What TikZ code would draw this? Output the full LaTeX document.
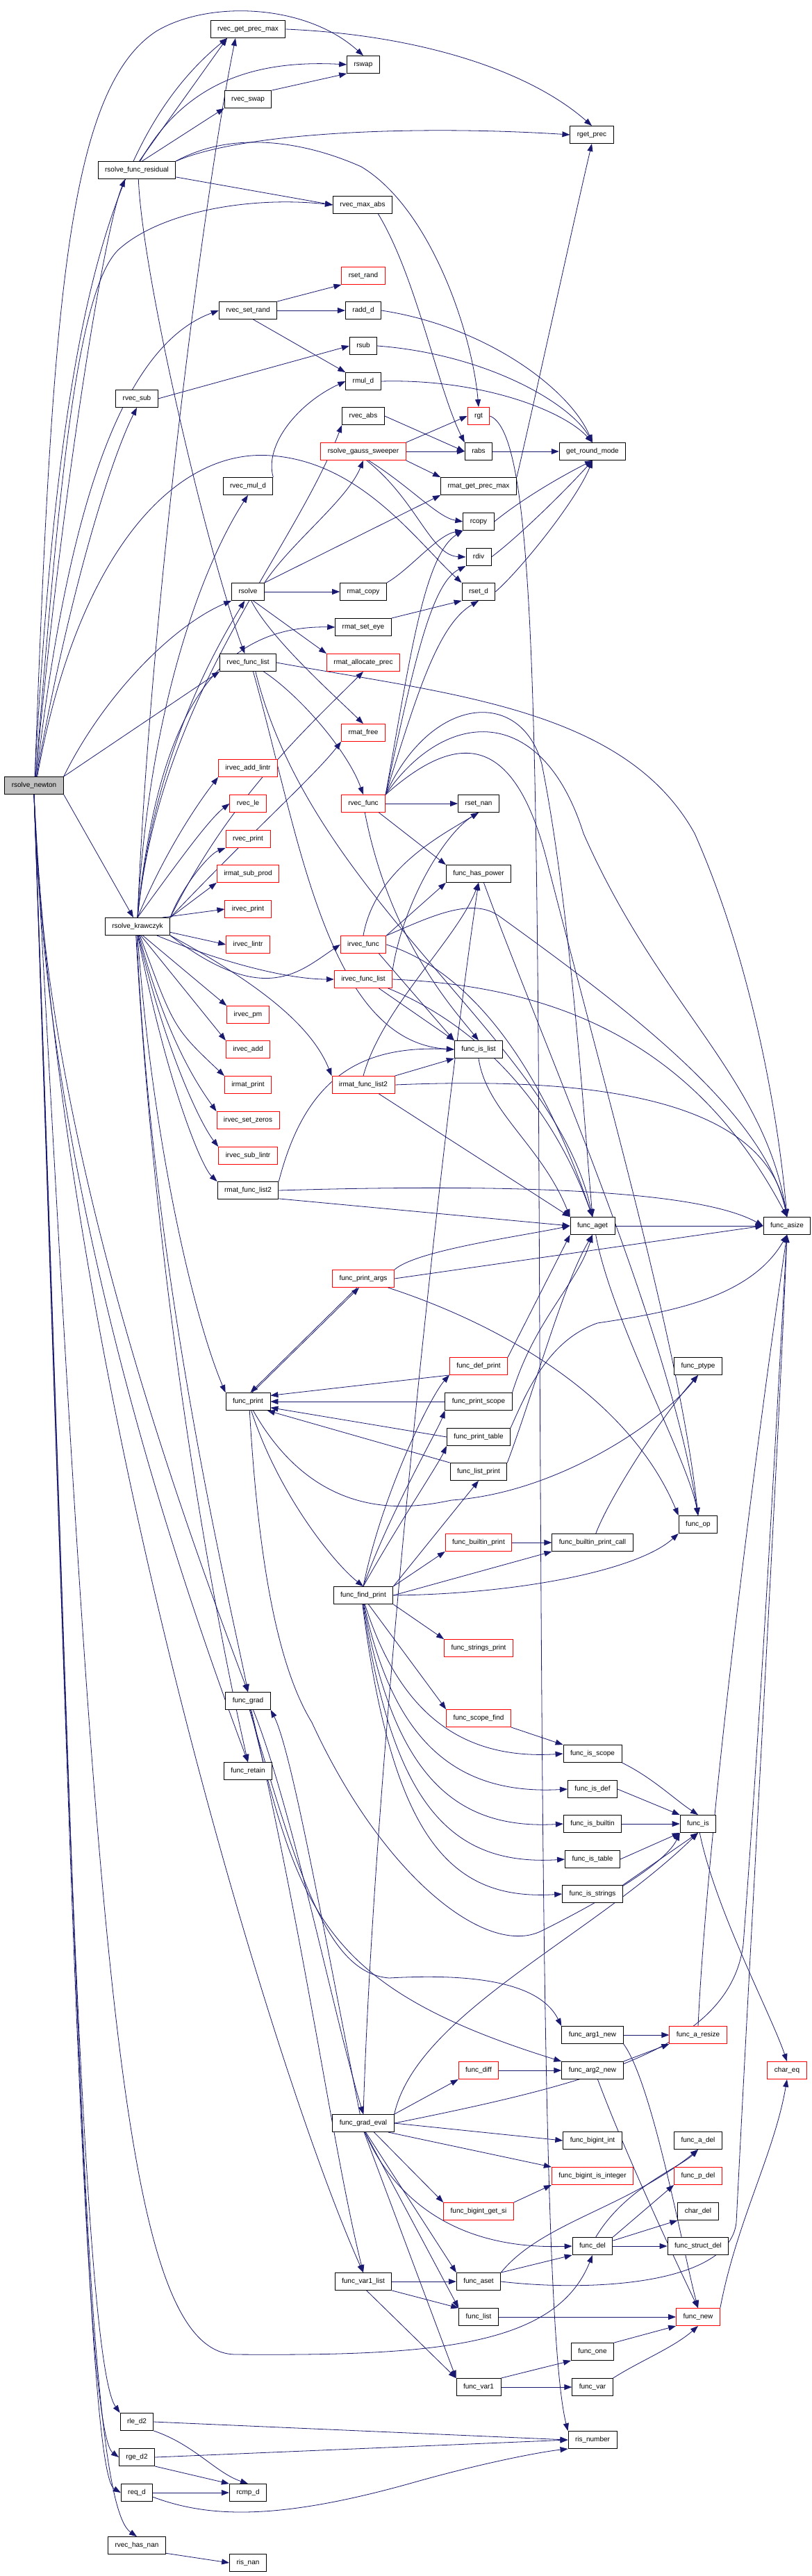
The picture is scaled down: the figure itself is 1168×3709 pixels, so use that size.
\documentclass[tikz,border=0pt]{standalone}
\usepackage{fontspec}
\setmainfont{Liberation Sans}
\usetikzlibrary{arrows.meta}
\pgfdeclarelayer{bg}
\pgfsetlayers{bg,main}
\definecolor{edgec}{HTML}{191970}
\definecolor{rootfill}{HTML}{BFBFBF}
\tikzset{
  nb/.style={draw=black, line width=0.9pt, fill=white, minimum height=25pt, inner xsep=10pt, inner ysep=0pt, text height=7.5pt, text depth=2.5pt},
  nr/.style={nb, draw=red},
  rootnode/.style={nb, fill=rootfill},
  e/.style={draw=edgec, line width=0.8pt, -{Triangle[length=11pt,width=8pt]}}
}
\begin{document}
\begin{tikzpicture}[x=1pt,y=1pt,font=\fontsize{10}{12}\selectfont]
\useasboundingbox (0,0) rectangle (1168,-3709);
\node[rootnode] (n0) at (49,-1131) {rsolve\_newton};
\node[nb] (res) at (197,-245) {rsolve\_func\_residual};
\node[nb] (gpm) at (357,-42) {rvec\_get\_prec\_max};
\node[nb] (rsw) at (523,-93) {rswap};
\node[nb] (vsw) at (357,-143) {rvec\_swap};
\node[nb] (gp) at (852,-194) {rget\_prec};
\node[nb] (vma) at (522,-295) {rvec\_max\_abs};
\node[nr] (srand) at (523,-397) {rset\_rand};
\node[nb] (vsr) at (357,-447) {rvec\_set\_rand};
\node[nb] (addd) at (523,-447) {radd\_d};
\node[nb] (rsb) at (523,-498) {rsub};
\node[nb] (muld) at (523,-549) {rmul\_d};
\node[nb] (vsub) at (197,-574) {rvec\_sub};
\node[nb] (vabs) at (523,-599) {rvec\_abs};
\node[nr] (rgt) at (689,-599) {rgt};
\node[nr] (gs) at (523,-650) {rsolve\_gauss\_sweeper};
\node[nb] (rabs) at (689,-650) {rabs};
\node[nb] (grm) at (853,-650) {get\_round\_mode};
\node[nb] (vmd) at (357,-700) {rvec\_mul\_d};
\node[nb] (mgpm) at (689,-700) {rmat\_get\_prec\_max};
\node[nb] (rcp) at (689,-751) {rcopy};
\node[nb] (rdv) at (689,-802) {rdiv};
\node[nb] (rsv) at (357,-852) {rsolve};
\node[nb] (mcp) at (523,-852) {rmat\_copy};
\node[nb] (setd) at (689,-852) {rset\_d};
\node[nb] (eye) at (523,-903) {rmat\_set\_eye};
\node[nb] (vfl) at (357,-954) {rvec\_func\_list};
\node[nr] (alloc) at (523,-954) {rmat\_allocate\_prec};
\node[nr] (mfree) at (523,-1055) {rmat\_free};
\node[nr] (val) at (357,-1106) {irvec\_add\_lintr};
\node[nr] (vle) at (357,-1157) {rvec\_le};
\node[nr] (vf) at (523,-1157) {rvec\_func};
\node[nb] (snan) at (689,-1157) {rset\_nan};
\node[nr] (vpr) at (357,-1208) {rvec\_print};
\node[nr] (isp) at (357,-1258) {irmat\_sub\_prod};
\node[nb] (fhp) at (689,-1258) {func\_has\_power};
\node[nr] (ivpr) at (357,-1309) {irvec\_print};
\node[nb] (kr) at (198,-1334) {rsolve\_krawczyk};
\node[nr] (ivl) at (357,-1360) {irvec\_lintr};
\node[nr] (ivf) at (523,-1360) {irvec\_func};
\node[nr] (ivfl) at (523,-1410) {irvec\_func\_list};
\node[nr] (ipm) at (357,-1461) {irvec\_pm};
\node[nr] (iadd) at (357,-1511) {irvec\_add};
\node[nb] (fil) at (689,-1511) {func\_is\_list};
\node[nr] (impr) at (357,-1562) {irmat\_print};
\node[nr] (imfl) at (523,-1562) {irmat\_func\_list2};
\node[nr] (isz) at (357,-1613) {irvec\_set\_zeros};
\node[nr] (isl) at (357,-1664) {irvec\_sub\_lintr};
\node[nb] (mfl) at (357,-1714) {rmat\_func\_list2};
\node[nb] (aget) at (853,-1765) {func\_aget};
\node[nb] (asz) at (1133,-1765) {func\_asize};
\node[nr] (fpa) at (523,-1841) {func\_print\_args};
\node[nr] (fdp) at (689,-1967) {func\_def\_print};
\node[nb] (fpt) at (1005,-1967) {func\_ptype};
\node[nb] (fpr) at (357,-2018) {func\_print};
\node[nb] (fps) at (689,-2018) {func\_print\_scope};
\node[nb] (fptb) at (689,-2069) {func\_print\_table};
\node[nb] (flp) at (689,-2119) {func\_list\_print};
\node[nb] (fop) at (1005,-2195) {func\_op};
\node[nr] (fbp) at (689,-2221) {func\_builtin\_print};
\node[nb] (fbpc) at (853,-2221) {func\_builtin\_print\_call};
\node[nb] (ffp) at (523,-2297) {func\_find\_print};
\node[nr] (fsp) at (689,-2373) {func\_strings\_print};
\node[nb] (fgr) at (357,-2449) {func\_grad};
\node[nr] (fsf) at (689,-2474) {func\_scope\_find};
\node[nb] (fisc) at (853,-2525) {func\_is\_scope};
\node[nb] (fret) at (357,-2550) {func\_retain};
\node[nb] (fidf) at (853,-2576) {func\_is\_def};
\node[nb] (fibi) at (853,-2626) {func\_is\_builtin};
\node[nb] (fis) at (1005,-2626) {func\_is};
\node[nb] (fitb) at (853,-2677) {func\_is\_table};
\node[nb] (fist) at (853,-2727) {func\_is\_strings};
\node[nb] (a1n) at (853,-2930) {func\_arg1\_new};
\node[nr] (ars) at (1005,-2930) {func\_a\_resize};
\node[nr] (fdf) at (689,-2981) {func\_diff};
\node[nb] (a2n) at (853,-2981) {func\_arg2\_new};
\node[nr] (ceq) at (1133,-2981) {char\_eq};
\node[nb] (fge) at (523,-3057) {func\_grad\_eval};
\node[nb] (bint) at (853,-3082) {func\_bigint\_int};
\node[nb] (adel) at (1005,-3082) {func\_a\_del};
\node[nr] (bii) at (853,-3133) {func\_bigint\_is\_integer};
\node[nr] (pdel) at (1005,-3133) {func\_p\_del};
\node[nr] (bgs) at (689,-3184) {func\_bigint\_get\_si};
\node[nb] (cdel) at (1005,-3184) {char\_del};
\node[nb] (fdel) at (853,-3234) {func\_del};
\node[nb] (sdel) at (1005,-3234) {func\_struct\_del};
\node[nb] (v1l) at (523,-3285) {func\_var1\_list};
\node[nb] (aset) at (689,-3285) {func\_aset};
\node[nb] (flst) at (689,-3336) {func\_list};
\node[nr] (fnew) at (1005,-3336) {func\_new};
\node[nb] (fone) at (853,-3386) {func\_one};
\node[nb] (fv1) at (689,-3437) {func\_var1};
\node[nb] (fvar) at (853,-3437) {func\_var};
\node[nb] (le2) at (197,-3487) {rle\_d2};
\node[nb] (isn) at (853,-3513) {ris\_number};
\node[nb] (ge2) at (197,-3538) {rge\_d2};
\node[nb] (eqd) at (197,-3589) {req\_d};
\node[nb] (cmpd) at (357,-3589) {rcmp\_d};
\node[nb] (hnan) at (197,-3665) {rvec\_has\_nan};
\node[nb] (inan) at (357,-3690) {ris\_nan};

\begin{pgfonlayer}{bg}
\fill[white] (0,0) rectangle (1168,-3709);
% root
\draw[e] (n0.85) .. controls (75,-450) and (95,-130) .. (225,-45) .. controls (300,0) and (440,-5) .. (rsw.north);
\draw[e] (n0.85) .. controls (85,-480) and (150,-200) .. ([xshift=-30pt]gpm.south);
\draw[e] (n0.80) .. controls (90,-700) and (150,-330) .. ([xshift=-17pt]res.south);
\draw[e] (n0.80) .. controls (85,-700) and (110,-420) .. (170,-360) .. controls (230,-305) and (360,-282) .. (vma.west);
\draw[e] (n0.75) .. controls (95,-750) and (170,-500) .. (vsr.west);
\draw[e] (n0.75) .. controls (100,-850) and (160,-660) .. (vsub.south);
\draw[e] (n0.70) .. controls (110,-800) and (250,-645) .. (390,-656) .. controls (520,-665) and (600,-780) .. (setd.north west);
\draw[e] (n0.north east) .. controls (150,-1000) and (250,-900) .. (rsv.south west);
\draw[e] (n0.north east) -- (vfl.south west);
\draw[e] (n0.south east) -- (kr.115);
\draw[e] (n0.south) .. controls (60,-1600) and (230,-2100) .. (fgr.north);
\draw[e] (n0.south) .. controls (65,-1700) and (250,-2250) .. (fret.north);
\draw[e] (n0.south) .. controls (90,-2000) and (400,-3000) .. (v1l.north);
\draw[e] (n0.south) .. controls (140,-2800) and (170,-3390) .. (340,-3390) .. controls (620,-3392) and (800,-3380) .. (fdel.south);
\draw[e] (n0.south) .. controls (95,-2500) and (120,-3400) .. (le2.north west);
\draw[e] (n0.south) .. controls (100,-2600) and (120,-3500) .. (ge2.west);
\draw[e] (n0.south) .. controls (105,-2700) and (125,-3560) .. (eqd.west);
\draw[e] (n0.south) .. controls (110,-2800) and (120,-3600) .. (hnan.north);
% residual
\draw[e] (res.75) -- ([xshift=-30pt]gpm.south);
\draw[e] (res.70) .. controls (260,-130) and (350,-85) .. (rsw.west);
\draw[e] (res.60) -- (vsw.south west);
\draw[e] (res.north east) .. controls (350,-190) and (600,-180) .. (gp.west);
\draw[e] (res.-10) -- (vma.west);
\draw[e] (res.north east) .. controls (330,-190) and (430,-200) .. (520,-240) .. controls (620,-300) and (680,-480) .. (rgt.north);
\draw[e] (res.-80) .. controls (205,-400) and (300,-800) .. (vfl.110);
% top section
\draw[e] (gpm.east) .. controls (600,-50) and (760,-100) .. (gp.north);
\draw[e] (vsw.north east) -- (rsw.south west);
\draw[e] (mgpm.north east) .. controls (760,-620) and (830,-300) .. (gp.south);
\draw[e] (vsr.north east) -- (srand.south west);
\draw[e] (vsr) -- (addd);
\draw[e] (vsr.-60) -- (muld.north west);
\draw[e] (addd.east) .. controls (700,-470) and (820,-560) .. (grm.north);
\draw[e] (rsb.east) .. controls (700,-510) and (820,-580) .. (grm.north);
\draw[e] (muld.east) .. controls (690,-545) and (810,-590) .. (grm.north);
\draw[e] (vsub.east) -- (rsb.west);
\draw[e] (vabs.east) -- (rabs.west);
\draw[e] (vma.-30) .. controls (600,-400) and (630,-560) .. (rabs.north west);
\draw[e] (vmd.north east) .. controls (380,-640) and (430,-580) .. (muld.west);
\draw[e] (gs.north east) -- (rgt.west);
\draw[e] (gs) -- (rabs);
\draw[e] (gs.south east) -- (mgpm.north west);
\draw[e] (gs.-60) .. controls (590,-700) and (630,-745) .. (rcp.west);
\draw[e] (gs.-70) .. controls (600,-720) and (620,-800) .. (rdv.west);
\draw[e] (rabs) -- (grm);
\draw[e] (rcp.east) .. controls (750,-720) and (800,-690) .. (grm.south);
\draw[e] (rdv.east) .. controls (750,-770) and (820,-700) .. (grm.south);
\draw[e] (setd.east) .. controls (750,-820) and (830,-720) .. (grm.south);
\draw[e] (rsv.north east) .. controls (420,-780) and (500,-720) .. (gs.south);
\draw[e] (rsv.north east) -- (mgpm.south west);
\draw[e] (rsv) -- (mcp);
\draw[e] (rsv.-60) -- (alloc.north west);
\draw[e] (rsv.-70) .. controls (390,-920) and (480,-1000) .. (mfree.north);
\draw[e] (mcp.north east) .. controls (590,-820) and (630,-770) .. (rcp.south west);
\draw[e] (eye.north east) -- (setd.south west);
% krawczyk
\draw[e] (kr.north) .. controls (215,-900) and (290,-300) .. ([xshift=-18pt]gpm.south);
\draw[e] (kr.north) .. controls (215,-1000) and (300,-800) .. (vmd.south);
\draw[e] (kr.north) .. controls (225,-1050) and (300,-900) .. (eye.west);
\draw[e] (kr.north) .. controls (220,-1100) and (300,-950) .. (rsv.-110);
\draw[e] (kr.north) .. controls (230,-1000) and (420,-800) .. (vabs.south west);
\draw[e] (kr.north east) .. controls (330,-1150) and (440,-1050) .. (alloc.south);
\draw[e] (kr.north east) .. controls (360,-1200) and (450,-1120) .. (mfree.south west);
\draw[e] (kr.north) .. controls (240,-1220) and (290,-1150) .. (val.south west);
\draw[e] (kr.north) .. controls (250,-1250) and (300,-1180) .. (vle.west);
\draw[e] (kr.north east) .. controls (260,-1280) and (300,-1230) .. (vpr.south west);
\draw[e] (kr.north east) -- (isp.south west);
\draw[e] (kr.20) -- (ivpr.west);
\draw[e] (kr.-10) -- (ivl.west);
\draw[e] (kr.-25) .. controls (330,-1390) and (420,-1410) .. (ivfl.west);
\draw[e] (kr.south east) .. controls (380,-1450) and (430,-1400) .. (ivf.west);
\draw[e] (kr.-60) -- (ipm.north west);
\draw[e] (kr.-70) -- (iadd.north west);
\draw[e] (kr.-75) .. controls (250,-1480) .. (impr.north west);
\draw[e] (kr.-80) .. controls (240,-1500) and (290,-1570) .. (isz.north west);
\draw[e] (kr.-85) .. controls (240,-1520) and (290,-1620) .. (isl.north west);
\draw[e] (kr.-88) .. controls (240,-1560) and (290,-1680) .. (mfl.north west);
\draw[e] (kr.south east) .. controls (380,-1420) and (450,-1480) .. (imfl.north west);
\draw[e] (kr.-90) .. controls (220,-1650) and (280,-1900) .. (fpr.north west);
\draw[e] (kr.-95) .. controls (220,-1850) and (330,-2300) .. (fgr.north);
\draw[e] (kr.-100) .. controls (230,-1950) and (330,-2420) .. (fret.north);
% rvec_func_list
\draw[e] (vfl.-30) .. controls (430,-1000) and (500,-1080) .. (vf.north);
\draw[e] (vfl.east) .. controls (650,-1000) and (900,-1020) .. (1000,-1200) .. controls (1080,-1380) and (1120,-1600) .. (asz.north);
\draw[e] (vfl.-50) .. controls (450,-1300) and (800,-1500) .. (aget.north);
\draw[e] (vfl.-60) .. controls (430,-1200) and (470,-1500) .. (fil.west);
% rvec_func
\draw[e] (vf) -- (snan);
\draw[e] (vf.-30) -- (fhp.north west);
\draw[e] (vf.-80) .. controls (560,-1350) and (650,-1450) .. (fil.north);
\draw[e] (vf.north east) .. controls (600,-1000) and (630,-900) .. (setd.south);
\draw[e] (vf.north east) .. controls (590,-950) and (610,-800) .. (rcp.south west);
\draw[e] (vf.north east) .. controls (595,-960) and (620,-840) .. (rdv.south west);
\draw[e] (vf.north east) .. controls (620,-1000) and (750,-990) .. (780,-1100) .. controls (820,-1300) and (840,-1600) .. (aget.north);
\draw[e] (vf.north east) .. controls (640,-1020) and (780,-1010) .. (840,-1200) .. controls (950,-1450) and (1100,-1550) .. (asz.north);
\draw[e] (vf.north east) .. controls (650,-1060) and (740,-1040) .. (790,-1250) .. controls (880,-1600) and (980,-1950) .. (fop.north);
% irvec_func
\draw[e] (ivf.north east) -- (fhp.south west);
\draw[e] (ivf.-30) -- (fil.north west);
\draw[e] (ivf.north) .. controls (540,-1250) and (640,-1200) .. (snan.south);
\draw[e] (ivf.east) .. controls (620,-1380) and (750,-1450) .. (aget.north);
\draw[e] (ivf.north east) .. controls (620,-1320) and (680,-1290) .. (720,-1320) .. controls (900,-1450) and (1100,-1600) .. (asz.north);
% irvec_func_list
\draw[e] (ivfl.-30) -- (fil.north west);
\draw[e] (ivfl.-20) .. controls (650,-1460) and (780,-1550) .. (aget.north);
\draw[e] (ivfl.east) .. controls (800,-1420) and (1000,-1500) .. (asz.north);
\draw[e] (ivfl.north east) .. controls (580,-1300) and (640,-1200) .. (snan.south);
% irmat_func_list2
\draw[e] (imfl.-30) -- (aget.north west);
\draw[e] (imfl.east) .. controls (850,-1550) and (1100,-1580) .. (asz.north);
\draw[e] (imfl.north east) -- (fil.south west);
\draw[e] (imfl.north) .. controls (550,-1450) and (660,-1350) .. (fhp.south);
% rmat_func_list2
\draw[e] (mfl.-15) -- (aget.west);
\draw[e] (mfl.east) .. controls (700,-1705) and (1000,-1710) .. (asz.west);
\draw[e] (mfl.north east) .. controls (440,-1550) and (520,-1505) .. (fil.west);
% misc
\draw[e] (fil.south) .. controls (700,-1600) and (780,-1650) .. (aget.north west);
\draw[e] (fhp.-60) .. controls (780,-1500) and (960,-1900) .. (fop.north);
\draw[e] (aget) -- (asz);
\draw[e] (aget.-70) .. controls (880,-1900) and (990,-2100) .. (fop.north);
% func_print_args / func_print
\draw[e] (fpa.north east) .. controls (600,-1800) and (750,-1780) .. (aget.west);
\draw[e] (fpa.east) -- (asz.west);
\draw[e] (fpa.-20) .. controls (700,-1900) and (900,-2000) .. (fop.north west);
\draw[e] (fpr.65) -- (fpa.-115);
\draw[e] (fpa.-125) -- (fpr.75);
\draw[e] (fpr.-70) .. controls (400,-2150) and (480,-2250) .. (ffp.north);
\draw[e] (fpr.-60) .. controls (460,-2200) and (600,-2170) .. (650,-2160) .. controls (800,-2150) and (950,-2050) .. (fpt.south);
\draw[e] (fpr.-80) .. controls (372,-2250) and (400,-2400) .. (449,-2480) .. controls (550,-2700) and (700,-2820) .. (780,-2780) .. controls (880,-2730) and (960,-2680) .. (fis.south west);
\draw[e] (fdp.south west) -- (fpr.15);
\draw[e] (fps.west) -- (fpr.east);
\draw[e] (fptb.west) -- (fpr.-15);
\draw[e] (flp.north west) -- (fpr.-25);
\draw[e] (fdp.north east) -- (aget.south west);
\draw[e] (fps.north east) .. controls (770,-1900) and (830,-1850) .. (aget.south);
\draw[e] (fptb.north east) .. controls (760,-2000) and (790,-1930) .. (860,-1905) .. controls (960,-1890) and (1080,-1870) .. (asz.south);
\draw[e] (flp.north east) .. controls (770,-2000) and (810,-1850) .. (aget.south);
% func_find_print
\draw[e] (ffp.north) .. controls (550,-2150) and (620,-2010) .. (fdp.south west);
\draw[e] (ffp.north) .. controls (560,-2180) and (630,-2060) .. (fps.south west);
\draw[e] (ffp.north) .. controls (570,-2200) and (630,-2110) .. (fptb.south west);
\draw[e] (ffp.north east) -- (flp.south);
\draw[e] (ffp.north east) -- (fbp.south west);
\draw[e] (ffp.east) -- (fbpc.south west);
\draw[e] (ffp.east) .. controls (750,-2295) and (920,-2260) .. (fop.south west);
\draw[e] (ffp.south east) -- (fsp.north west);
\draw[e] (ffp.-60) -- (fsf.north west);
\draw[e] (ffp.-80) .. controls (570,-2450) and (650,-2535) .. (fisc.west);
\draw[e] (ffp.-85) .. controls (565,-2500) and (650,-2585) .. (fidf.west);
\draw[e] (ffp.-88) .. controls (565,-2550) and (650,-2635) .. (fibi.west);
\draw[e] (ffp.-92) .. controls (565,-2600) and (650,-2687) .. (fitb.west);
\draw[e] (ffp.-95) .. controls (565,-2650) and (650,-2737) .. (fist.west);
\draw[e] (fbp) -- (fbpc);
\draw[e] (fbpc.70) .. controls (880,-2150) and (960,-2030) .. (fpt.south);
\draw[e] (fsf.south east) -- (fisc.north west);
\draw[e] (fisc.south east) .. controls (940,-2560) and (970,-2590) .. (fis.north);
\draw[e] (fidf.east) -- (fis.north west);
\draw[e] (fibi) -- (fis);
\draw[e] (fitb.east) -- (fis.south west);
\draw[e] (fist.north east) -- (fis.south);
\draw[e] (fis.-80) .. controls (1030,-2750) and (1110,-2900) .. (ceq.north);
% func_grad & eval
\draw[e] (fgr.-60) .. controls (420,-2600) and (480,-2900) .. (fge.north);
\draw[e] (fge.110) .. controls (470,-2800) and (420,-2520) .. (fgr.south east);
\draw[e] (fgr.-70) .. controls (440,-2800) and (480,-3100) .. (v1l.north);
\draw[e] (fgr.-80) .. controls (430,-2700) and (470,-2840) .. (560,-2848) .. controls (700,-2840) and (780,-2860) .. (a1n.north west);
\draw[e] (fgr.-75) .. controls (430,-2750) and (460,-2860) .. (a2n.north west);
\draw[e] (fge.north east) -- (fdf.south west);
\draw[e] (fge.east) -- (bint.west);
\draw[e] (fge.-20) -- (bii.north west);
\draw[e] (fge.-40) -- (bgs.north west);
\draw[e] (fge.-80) .. controls (560,-3150) and (640,-3240) .. (fdel.west);
\draw[e] (fge.-75) -- (aset.north west);
\draw[e] (fge.-80) -- (flst.north west);
\draw[e] (fge.-85) -- (fv1.north west);
\draw[e] (fge.north east) .. controls (600,-2900) and (850,-2790) .. (fis.south);
\draw[e] (fge.east) .. controls (850,-3000) and (1050,-2950) .. (1070,-2800) .. controls (1100,-2400) and (1120,-2000) .. (asz.south);
\draw[e] (fge.north) .. controls (540,-2500) and (640,-1600) .. (fhp.south);
\draw[e] (fdf) -- (a2n);
\draw[e] (a1n) -- (ars);
\draw[e] (a2n.north east) -- (ars.south west);
\draw[e] (a1n.south east) .. controls (940,-3000) and (985,-3250) .. (fnew.north);
\draw[e] (a2n.-60) .. controls (900,-3100) and (970,-3250) .. (fnew.north);
\draw[e] (ars.north) .. controls (1020,-2600) and (1100,-2000) .. (asz.south);
\draw[e] (bgs.north east) -- (bii.south west);
\draw[e] (fdel.north east) -- (pdel.south west);
\draw[e] (fdel.15) -- (cdel.south west);
\draw[e] (fdel) -- (sdel);
\draw[e] (fdel.70) .. controls (900,-3150) and (980,-3120) .. (adel.south);
\draw[e] (aset.north east) -- (fdel.south west);
\draw[e] (aset.north east) .. controls (780,-3200) and (900,-3180) .. (adel.south);
\draw[e] (aset.east) .. controls (850,-3300) and (1050,-3290) .. (1060,-3200) .. controls (1080,-2800) and (1120,-2100) .. (asz.south);
\draw[e] (v1l) -- (aset);
\draw[e] (v1l.south east) -- (flst.north west);
\draw[e] (v1l.-70) -- (fv1.north west);
\draw[e] (flst) -- (fnew);
\draw[e] (fone.north east) -- (fnew.south west);
\draw[e] (fvar.north east) .. controls (920,-3400) and (970,-3380) .. (fnew.south);
\draw[e] (fv1.north east) -- (fone.south west);
\draw[e] (fv1) -- (fvar);
\draw[e] (fnew.north east) .. controls (1060,-3200) and (1115,-3100) .. (ceq.south);
% bottom
\draw[e] (le2.east) -- (isn.west);
\draw[e] (le2.south east) .. controls (280,-3520) and (310,-3560) .. (cmpd.north);
\draw[e] (ge2.east) -- (isn.west);
\draw[e] (ge2.south east) -- (cmpd.north west);
\draw[e] (eqd) -- (cmpd);
\draw[e] (eqd.-15) .. controls (300,-3625) and (400,-3630) .. (600,-3573) .. controls (700,-3545) and (780,-3530) .. (isn.south west);
\draw[e] (hnan.-15) -- (inan.west);
\draw[e] (rgt.east) .. controls (760,-620) and (770,-900) .. (775,-1500) .. controls (780,-2500) and (780,-3350) .. (isn.north west);
\end{pgfonlayer}
\end{tikzpicture}
\end{document}
